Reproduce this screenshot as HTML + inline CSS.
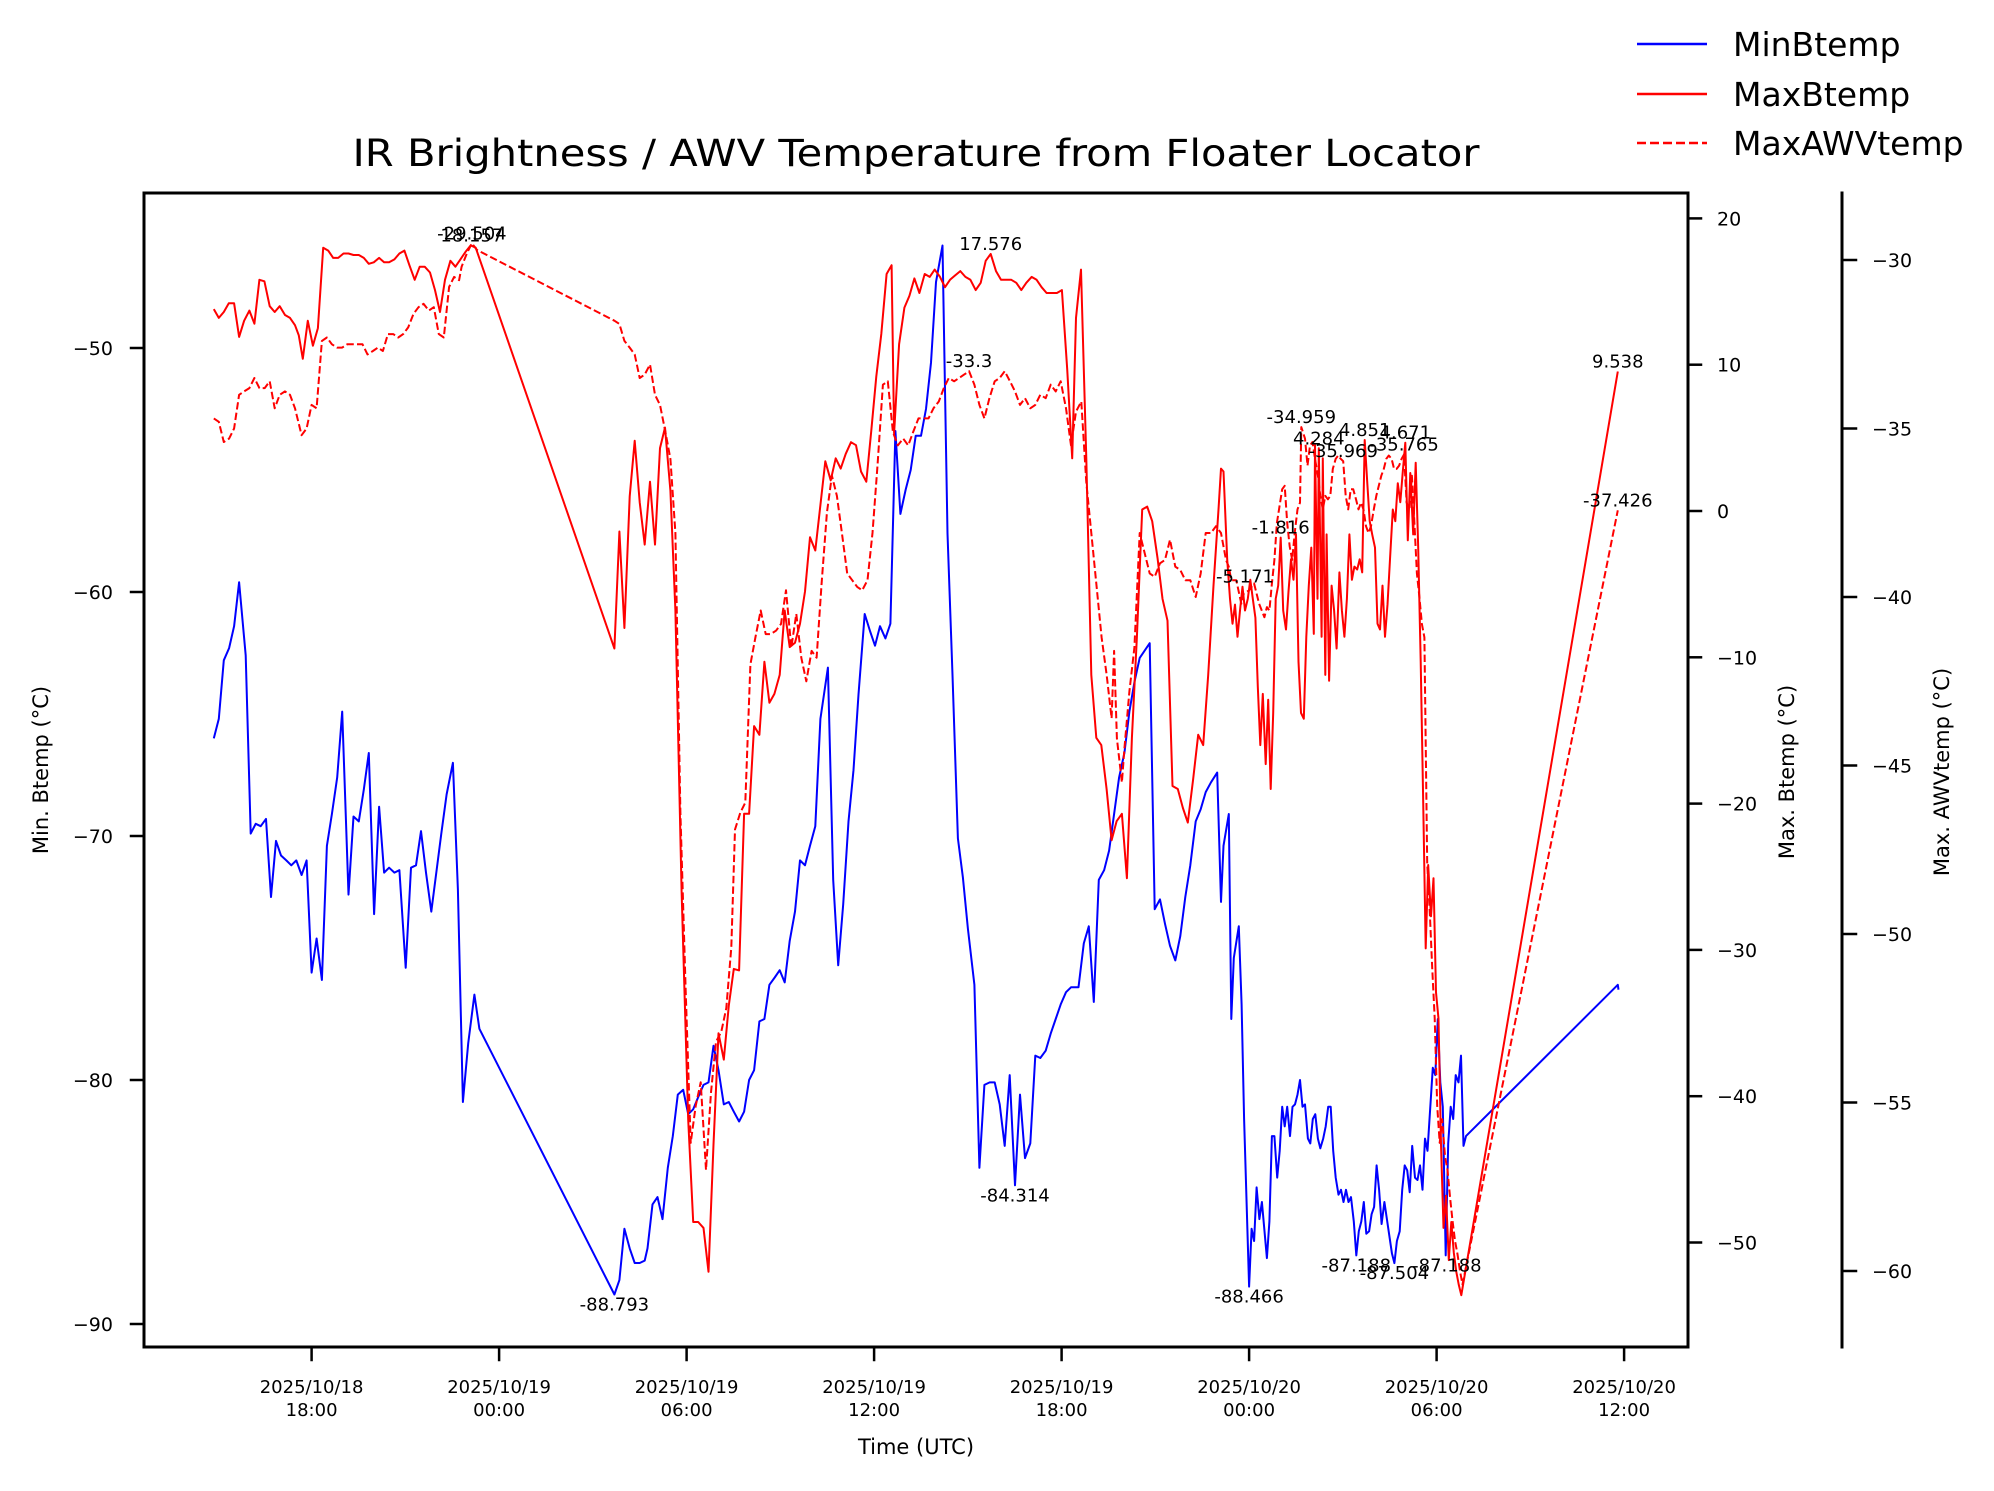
<!DOCTYPE html>
<html><head><meta charset="utf-8">
<style>
html,body{margin:0;padding:0;background:#fff;}
svg{display:block;font-family:"DejaVu Sans","Liberation Sans",sans-serif;}
</style></head>
<body>
<svg id="chart" width="1994" height="1491" viewBox="0 0 1994 1491" xmlns="http://www.w3.org/2000/svg">
<rect x="0" y="0" width="1994" height="1491" fill="#fff"/>
<text x="916" y="166" font-size="37" text-anchor="middle" textLength="1127" lengthAdjust="spacingAndGlyphs">IR Brightness / AWV Temperature from Floater Locator</text>
<g id="plot"></g>
<g id="axes"></g>
<g id="legend">
<line x1="1637" y1="44" x2="1707" y2="44" stroke="#0000ff" stroke-width="2.5"/>
<text x="1733" y="56" font-size="33">MinBtemp</text>
<line x1="1637" y1="94" x2="1707" y2="94" stroke="#ff0000" stroke-width="2.5"/>
<text x="1733" y="106" font-size="33">MaxBtemp</text>
<line x1="1637" y1="143" x2="1707" y2="143" stroke="#ff0000" stroke-width="2.5" stroke-dasharray="9,4"/>
<text x="1733" y="155" font-size="33">MaxAWVtemp</text>
</g>
</svg>
<script>
// ---- data ----
const xTickHours = [18,24,30,36,42,48,54,60];
const xTickDates = ["2025/10/18","2025/10/19","2025/10/19","2025/10/19","2025/10/19","2025/10/20","2025/10/20","2025/10/20"];
const xTickTimes = ["18:00","00:00","06:00","12:00","18:00","00:00","06:00","12:00"];
const minTicks = [-50,-60,-70,-80,-90];
const maxTicks = [20,10,0,-10,-20,-30,-40,-50];
const awvTicks = [-30,-35,-40,-45,-50,-55,-60];

const minTime = [14.87,15.03,15.19,15.36,15.52,15.68,15.89,16.05,16.21,16.37,16.54,16.70,16.86,17.02,17.19,17.35,17.51,17.68,17.84,18.00,18.16,18.33,18.49,18.65,18.82,18.98,19.18,19.34,19.51,19.67,19.83,20.00,20.16,20.32,20.48,20.65,20.81,21.01,21.18,21.34,21.50,21.66,21.83,21.99,22.15,22.32,22.52,22.68,22.84,23.01,23.21,23.37,
27.69,27.85,28.01,28.18,28.34,28.50,28.66,28.75,28.91,29.07,29.23,29.40,29.56,29.72,29.89,30.05,30.21,30.37,30.54,30.70,30.86,31.02,31.19,31.35,31.51,31.68,31.84,32.00,32.16,32.33,32.49,32.65,32.82,32.98,33.14,33.30,33.47,33.63,33.79,33.95,34.12,34.28,34.52,34.69,34.85,35.01,35.18,35.34,35.50,35.70,35.87,36.03,36.19,36.36,36.52,36.68,36.84,37.01,37.17,37.33,37.50,37.66,37.82,37.98,38.19,38.35,38.51,38.68,38.84,39.00,39.21,39.37,39.53,39.70,39.86,40.02,40.18,40.34,40.51,40.67,40.83,41.00,41.16,41.32,41.49,41.65,41.81,41.97,42.14,42.30,42.54,42.71,42.87,43.03,43.19,43.36,43.52,43.68,43.84,44.01,44.17,44.33,44.50,44.66,44.82,44.98,45.15,45.31,45.47,45.64,45.80,45.96,46.12,46.29,46.45,46.61,46.78,46.98,47.10,47.18,47.35,47.43,47.51,47.67,47.76,47.84,48.00,48.08,48.16,48.24,48.33,48.41,48.57,48.65,48.73,48.81,48.90,48.98,49.06,49.14,49.22,49.31,49.39,49.47,49.55,49.63,49.71,49.79,49.88,49.96,50.04,50.12,50.20,50.28,50.37,50.45,50.53,50.61,50.69,50.77,50.86,50.94,51.02,51.10,51.18,51.26,51.35,51.43,51.51,51.59,51.67,51.75,51.84,51.92,52.00,52.08,52.16,52.24,52.33,52.41,52.49,52.57,52.65,52.73,52.82,52.90,52.98,53.06,53.14,53.22,53.31,53.39,53.47,53.55,53.63,53.71,53.80,53.88,53.96,54.04,54.12,54.20,54.29,54.37,54.45,54.53,54.61,54.70,54.78,54.86,54.94,59.80,59.82];
const minValues = [-66.0,-65.2,-62.8,-62.3,-61.4,-59.6,-62.6,-69.9,-69.5,-69.6,-69.3,-72.5,-70.2,-70.8,-71.0,-71.2,-71.0,-71.6,-71.0,-75.6,-74.2,-75.9,-70.4,-69.1,-67.6,-64.9,-72.4,-69.2,-69.4,-68.1,-66.6,-73.2,-68.8,-71.5,-71.3,-71.5,-71.4,-75.4,-71.3,-71.2,-69.8,-71.5,-73.1,-71.5,-69.9,-68.3,-67.0,-72.2,-80.9,-78.5,-76.5,-77.9,
-88.793,-88.2,-86.1,-86.9,-87.5,-87.5,-87.4,-86.9,-85.1,-84.8,-85.7,-83.6,-82.3,-80.6,-80.4,-81.4,-81.2,-80.7,-80.2,-80.1,-78.6,-79.6,-81.0,-80.9,-81.3,-81.7,-81.3,-80.0,-79.6,-77.6,-77.5,-76.1,-75.8,-75.5,-76.0,-74.3,-73.1,-71.0,-71.2,-70.4,-69.6,-65.2,-63.1,-71.8,-75.3,-72.8,-69.4,-67.3,-64.2,-60.9,-61.6,-62.2,-61.4,-61.9,-61.3,-53.4,-56.8,-55.8,-55.0,-53.6,-53.6,-52.5,-50.6,-47.3,-45.8,-57.6,-63.4,-70.1,-71.7,-73.8,-76.1,-83.6,-80.2,-80.1,-80.1,-81.0,-82.7,-79.8,-84.314,-80.6,-83.2,-82.6,-79.0,-79.1,-78.8,-78.1,-77.5,-76.9,-76.4,-76.2,-76.2,-74.4,-73.7,-76.8,-71.8,-71.4,-70.6,-69.1,-67.6,-66.6,-64.9,-63.7,-62.7,-62.4,-62.1,-73.0,-72.6,-73.6,-74.5,-75.1,-74.1,-72.5,-71.2,-69.4,-68.9,-68.2,-67.8,-67.4,-72.7,-70.4,-69.1,-77.5,-75.0,-73.7,-76.9,-81.6,-88.466,-86.1,-86.6,-84.4,-85.7,-85.0,-87.3,-85.8,-82.3,-82.3,-84.0,-82.9,-81.1,-81.9,-81.1,-82.3,-81.1,-81.0,-80.6,-80.0,-81.1,-81.0,-82.4,-82.6,-81.6,-81.4,-82.4,-82.8,-82.4,-81.9,-81.1,-81.1,-82.9,-84.0,-84.7,-84.5,-85.0,-84.5,-85.0,-84.8,-85.8,-87.188,-86.2,-85.8,-85.0,-86.3,-86.2,-85.5,-85.2,-83.5,-84.5,-85.9,-85.0,-85.7,-86.4,-87.1,-87.504,-86.6,-86.2,-84.5,-83.5,-83.7,-84.6,-82.7,-84.0,-84.1,-83.5,-84.5,-82.4,-82.9,-81.1,-79.5,-79.8,-77.5,-80.1,-81.1,-87.188,-82.6,-81.1,-81.6,-79.8,-80.1,-79.0,-82.7,-82.3,-76.1,-76.3];

const maxTime = [14.87,15.03,15.19,15.35,15.52,15.68,15.84,16.01,16.17,16.33,16.49,16.66,16.82,16.98,17.15,17.31,17.47,17.59,17.72,17.88,18.04,18.20,18.37,18.53,18.69,18.85,19.02,19.18,19.34,19.51,19.67,19.83,19.99,20.16,20.32,20.48,20.65,20.81,20.97,21.13,21.30,21.46,21.62,21.79,21.95,22.11,22.27,22.44,22.60,22.76,22.92,23.09,23.25,
27.69,27.85,28.01,28.18,28.34,28.50,28.66,28.83,28.99,29.15,29.31,29.48,29.64,29.84,30.05,30.21,30.37,30.54,30.70,30.86,31.02,31.19,31.35,31.51,31.68,31.84,32.00,32.16,32.33,32.49,32.65,32.81,32.98,33.14,33.30,33.47,33.63,33.79,33.95,34.12,34.28,34.44,34.61,34.77,34.93,35.09,35.26,35.42,35.58,35.75,35.91,36.07,36.23,36.40,36.56,36.64,36.80,36.97,37.13,37.29,37.45,37.62,37.78,37.94,38.11,38.27,38.43,38.59,38.76,38.92,39.08,39.25,39.41,39.57,39.73,39.90,40.06,40.22,40.39,40.55,40.71,40.87,41.04,41.20,41.36,41.52,41.69,41.85,42.01,42.18,42.34,42.46,42.62,42.79,42.95,43.11,43.27,43.44,43.60,43.76,43.93,44.09,44.25,44.41,44.58,44.74,44.90,45.07,45.23,45.39,45.55,45.72,45.88,46.04,46.21,46.37,46.53,46.69,46.86,47.02,47.10,47.18,47.30,47.39,47.47,47.55,47.63,47.71,47.79,47.87,47.96,48.04,48.12,48.20,48.28,48.36,48.44,48.53,48.61,48.69,48.77,48.85,48.93,49.01,49.09,49.18,49.26,49.34,49.42,49.50,49.58,49.66,49.75,49.83,49.91,49.99,50.07,50.11,50.19,50.23,50.32,50.36,50.44,50.48,50.56,50.64,50.72,50.80,50.89,50.97,51.05,51.13,51.21,51.29,51.37,51.46,51.54,51.62,51.70,51.78,51.86,51.94,52.03,52.11,52.19,52.27,52.35,52.43,52.51,52.60,52.68,52.76,52.84,52.92,53.00,53.08,53.16,53.25,53.33,53.41,53.49,53.57,53.65,53.73,53.82,53.90,53.98,54.06,54.14,54.22,54.30,54.39,54.47,54.55,54.63,54.71,54.79,59.80];
const maxValues = [13.8,13.2,13.6,14.2,14.2,11.9,13.0,13.7,12.8,15.8,15.7,14.0,13.6,14.0,13.4,13.2,12.7,12.0,10.4,13.0,11.3,12.5,18.0,17.8,17.3,17.3,17.6,17.6,17.5,17.5,17.3,16.9,17.0,17.3,17.0,17.0,17.2,17.6,17.8,16.8,15.8,16.7,16.7,16.3,15.1,13.6,15.8,17.1,16.7,17.2,17.7,18.157,18.0,
-9.4,-1.4,-8.0,1.0,4.8,0.6,-2.3,2.0,-2.3,4.3,5.7,1.4,-6.8,-26.0,-41.6,-48.6,-48.6,-49.0,-52.0,-43.3,-35.7,-37.5,-33.8,-31.3,-31.4,-20.7,-20.7,-14.7,-15.3,-10.3,-13.1,-12.5,-11.2,-6.8,-9.3,-9.0,-7.7,-5.5,-1.8,-2.7,0.4,3.4,2.1,3.6,2.9,3.9,4.7,4.5,2.7,2.0,5.5,9.2,12.1,16.2,16.8,5.3,11.4,13.9,14.7,15.9,14.9,16.2,16.0,16.5,16.0,15.3,15.8,16.1,16.4,16.0,15.8,15.1,15.6,17.1,17.576,16.4,15.8,15.8,15.8,15.6,15.1,15.6,16.0,15.8,15.3,14.9,14.9,14.9,15.1,9.7,3.6,13.2,16.5,3.6,-11.2,-15.5,-16.0,-19.0,-22.5,-21.2,-20.7,-25.1,-15.5,-8.6,0.1,0.3,-0.7,-3.2,-6.0,-7.5,-18.8,-19.0,-20.3,-21.3,-18.3,-15.3,-16.0,-11.2,-5.1,0.1,2.9,2.7,-3.3,-6.0,-7.7,-6.4,-8.6,-6.8,-5.171,-6.8,-6.0,-4.7,-6.0,-7.3,-12.0,-16.0,-12.5,-17.3,-12.9,-19.0,-13.8,-6.0,-5.1,-1.816,-6.8,-8.1,-5.5,-3.3,-4.7,-1.6,-10.3,-13.8,-14.2,-8.6,-5.1,-2.5,-8.4,4.5,-6.0,4.284,-8.6,3.6,-11.2,-1.6,-11.6,-5.1,-6.8,-9.4,-4.2,-6.8,-8.6,-6.0,-1.6,-4.7,-3.8,-4.0,-3.3,-4.2,4.851,2.0,-0.7,-1.6,-2.5,-7.7,-8.1,-5.1,-8.6,-6.4,-3.3,0.1,-0.7,1.9,0.6,2.7,4.671,-2.0,2.6,-1.6,3.3,-2.5,-10.3,-19.9,-29.9,-24.2,-27.7,-25.1,-32.9,-34.7,-43.3,-49.0,-46.8,-51.2,-48.6,-50.7,-52.0,-52.9,-53.6,9.538];

const awvTime = [14.87,15.03,15.19,15.36,15.52,15.68,15.84,16.01,16.17,16.33,16.50,16.66,16.82,16.98,17.15,17.31,17.47,17.68,17.84,18.00,18.16,18.33,18.49,18.65,18.82,18.98,19.14,19.30,19.47,19.63,19.79,19.96,20.12,20.28,20.44,20.61,20.77,20.93,21.09,21.26,21.42,21.58,21.75,21.91,22.07,22.23,22.40,22.56,22.72,22.80,22.97,23.13,23.29,
27.69,27.85,28.01,28.18,28.34,28.50,28.66,28.83,28.99,29.15,29.32,29.48,29.64,29.80,29.97,30.13,30.29,30.45,30.62,30.78,30.94,31.11,31.27,31.43,31.55,31.72,31.88,32.04,32.20,32.37,32.53,32.69,32.86,33.02,33.18,33.35,33.51,33.67,33.83,34.00,34.16,34.32,34.49,34.65,34.81,34.97,35.14,35.30,35.46,35.62,35.79,35.95,36.11,36.28,36.44,36.60,36.76,36.93,37.09,37.25,37.42,37.58,37.74,37.90,38.07,38.23,38.39,38.56,38.72,38.88,39.04,39.21,39.37,39.53,39.69,39.86,40.02,40.18,40.35,40.51,40.67,40.83,41.00,41.16,41.32,41.49,41.65,41.81,41.97,42.14,42.30,42.46,42.63,42.79,42.95,43.11,43.28,43.44,43.60,43.68,43.77,43.93,44.01,44.17,44.33,44.50,44.66,44.82,44.98,45.15,45.31,45.47,45.64,45.80,45.96,46.12,46.29,46.45,46.61,46.78,46.94,47.10,47.26,47.35,47.43,47.59,47.75,47.83,48.00,48.16,48.32,48.49,48.57,48.65,48.73,48.81,48.89,49.06,49.14,49.22,49.30,49.38,49.46,49.55,49.63,49.67,49.79,49.87,49.95,50.03,50.11,50.20,50.28,50.36,50.44,50.52,50.60,50.68,50.77,50.85,50.93,51.01,51.09,51.17,51.25,51.33,51.42,51.50,51.58,51.66,51.74,51.82,51.90,51.99,52.07,52.15,52.23,52.31,52.39,52.47,52.56,52.64,52.72,52.80,52.88,52.96,53.04,53.13,53.21,53.29,53.37,53.45,53.53,53.61,53.70,53.78,53.86,53.94,54.02,54.10,54.18,54.27,54.35,54.43,54.51,54.59,54.67,54.75,54.83,59.80];
const awvValues = [-34.7,-34.8,-35.4,-35.3,-35.0,-34.0,-33.9,-33.8,-33.5,-33.8,-33.8,-33.6,-34.4,-34.0,-33.9,-34.0,-34.4,-35.2,-35.0,-34.3,-34.4,-32.4,-32.3,-32.5,-32.6,-32.6,-32.5,-32.5,-32.5,-32.5,-32.8,-32.7,-32.6,-32.7,-32.2,-32.2,-32.3,-32.2,-32.0,-31.6,-31.4,-31.3,-31.5,-31.4,-32.2,-32.3,-30.8,-30.5,-30.6,-30.2,-29.8,-29.504,-29.7,
-31.8,-31.9,-32.4,-32.6,-32.8,-33.5,-33.4,-33.1,-34.0,-34.3,-35.1,-35.9,-38.1,-46.4,-51.7,-56.2,-55.1,-54.4,-57.0,-54.7,-53.2,-52.9,-52.2,-50.4,-46.9,-46.4,-46.1,-42.0,-41.2,-40.4,-41.1,-41.1,-41.0,-40.8,-39.8,-41.5,-40.5,-41.8,-42.5,-41.6,-41.8,-39.6,-37.5,-36.4,-37.0,-38.1,-39.3,-39.5,-39.7,-39.8,-39.5,-38.1,-36.1,-33.7,-33.6,-35.1,-35.5,-35.3,-35.5,-35.1,-34.7,-34.7,-34.7,-34.4,-34.2,-33.8,-33.5,-33.6,-33.5,-33.4,-33.3,-33.7,-34.3,-34.7,-34.1,-33.6,-33.5,-33.3,-33.6,-33.9,-34.3,-34.1,-34.4,-34.3,-34.0,-34.1,-33.7,-33.9,-33.6,-34.4,-35.5,-34.5,-34.2,-36.6,-38.1,-39.6,-41.2,-42.3,-43.6,-41.6,-44.2,-45.5,-44.5,-42.8,-41.5,-38.1,-38.7,-39.3,-39.4,-39.0,-38.9,-38.3,-39.1,-39.2,-39.5,-39.5,-40.0,-39.3,-38.1,-38.1,-37.9,-38.1,-38.9,-39.1,-39.5,-39.5,-40.2,-39.9,-39.8,-39.6,-40.2,-40.6,-40.3,-40.4,-39.6,-38.9,-37.8,-36.8,-36.7,-37.8,-38.5,-38.9,-38.1,-37.4,-37.2,-34.959,-35.3,-36.1,-35.5,-35.4,-35.9,-36.4,-37.0,-37.4,-37.0,-37.1,-37.0,-36.2,-35.9,-35.8,-35.9,-35.969,-37.0,-37.4,-36.8,-36.8,-37.1,-37.4,-37.2,-37.4,-37.9,-38.1,-37.9,-37.4,-37.0,-36.7,-36.4,-36.2,-35.9,-35.8,-35.9,-36.2,-36.2,-36.1,-35.9,-35.765,-37.2,-37.4,-36.4,-37.8,-39.3,-40.0,-40.8,-41.2,-47.9,-49.3,-51.0,-52.5,-55.1,-56.2,-55.5,-56.6,-57.0,-57.8,-58.5,-59.1,-59.5,-60.0,-60.4,-37.426];

const annSeries = ["min","min","min","min","min","min","max","awv","max","awv","awv","max","awv","max","awv","max","max","max","awv"];
const annTime = [27.69,40.51,48.00,51.43,52.65,54.33,39.73,39.04,23.13,23.13,49.67,50.23,51.01,51.70,52.96,53.00,49.01,47.87,59.80];
const annValue = [-88.793,-84.314,-88.466,-87.188,-87.504,-87.188,17.576,-33.3,18.157,-29.504,-34.959,4.284,-35.969,4.851,-35.765,4.671,-1.816,-5.171,-37.426];
const annText = ["-88.793","-84.314","-88.466","-87.188","-87.504","-87.188","17.576","-33.3","18.157","-29.504","-34.959","4.284","-35.969","4.851","-35.765","4.671","-1.816","-5.171","-37.426"];
const annBelow = [true,true,true,true,true,true,false,false,false,false,false,false,false,false,false,false,false,false,false];
const annEndMax = ["9.538"];

// ---- geometry ----
const L=144,R=1688,T=193,B=1347;
const X = t => 311.6 + (t-18)*31.25;
const Ymin = v => 348 + (-50 - v)*24.4;
const Ymax = v => 511 - v*14.63;
const Yawv = v => 260 + (-30 - v)*33.7;
const NS="http://www.w3.org/2000/svg";
function mk(tag, parent){const e=document.createElementNS(NS,tag);parent.appendChild(e);return e;}

const svg=document.getElementById('chart');
const plot=document.getElementById('plot');
const axes=document.getElementById('axes');

const defs=mk('defs',svg);
const cp=mk('clipPath',defs); cp.setAttribute('id','clipArea');
const cr=mk('rect',cp); cr.setAttribute('x',L); cr.setAttribute('y',T); cr.setAttribute('width',R-L); cr.setAttribute('height',B-T);
plot.setAttribute('clip-path','url(#clipArea)');

function drawLine(times, vals, yf, color, dash, name){
  const p=mk('path',plot);
  let d='';
  for(let i=0;i<times.length;i++){d+=(i?'L':'M')+X(times[i]).toFixed(1)+','+yf(vals[i]).toFixed(1);}
  p.setAttribute('d',d);
  p.setAttribute('fill','none');
  p.setAttribute('stroke',color);
  p.setAttribute('stroke-width','2');
  p.setAttribute('stroke-linejoin','round');
  if(dash) p.setAttribute('stroke-dasharray',dash);
  
  
}
drawLine(minTime,minValues,Ymin,'#0000ff',null,'minbtemp-line');
drawLine(maxTime,maxValues,Ymax,'#ff0000',null,'maxbtemp-line');
drawLine(awvTime,awvValues,Yawv,'#ff0000','7.4,3.2','maxawvtemp-line');

const annG=mk('g',svg);


const yfFor={min:Ymin,max:Ymax,awv:Yawv};
for(let i=0;i<annText.length;i++){
  const y=yfFor[annSeries[i]](annValue[i]);
  const t=mk('text',annG);
  t.setAttribute('x',X(annTime[i]).toFixed(1));
  t.setAttribute('y',(annBelow[i]?y+16:y-4).toFixed(1));
  t.setAttribute('font-size','18');
  t.setAttribute('text-anchor','middle');
  t.textContent=annText[i];
  
  
}
{
  const y=Ymax(maxValues[maxValues.length-1]);
  const t=mk('text',annG);
  t.setAttribute('x',X(maxTime[maxTime.length-1]).toFixed(1));
  t.setAttribute('y',(y-4).toFixed(1));
  t.setAttribute('font-size','18');
  t.setAttribute('text-anchor','middle');
  t.textContent=annEndMax[0];
  
  
}

function ln(x1,y1,x2,y2,w,name){
  const l=mk('line',axes);
  l.setAttribute('x1',x1);l.setAttribute('y1',y1);l.setAttribute('x2',x2);l.setAttribute('y2',y2);
  l.setAttribute('stroke','#000');l.setAttribute('stroke-width',w);l.setAttribute('stroke-linecap','square');
  
  
  return l;
}
function tx(x,y,s,size,anchor,name){
  const t=mk('text',axes);
  t.setAttribute('x',x);t.setAttribute('y',y);t.setAttribute('font-size',size);t.setAttribute('text-anchor',anchor);
  t.textContent=s;
  
  
  return t;
}
ln(L,T,R,T,3,'top-spine');
ln(L,B,R,B,3,'bottom-spine');
ln(L,T,L,B,3,'left-spine');
ln(R,T,R,B,3,'right-spine-maxbtemp');
ln(1842,T,1842,B,3,'right-spine-maxawvtemp');

for(let i=0;i<xTickHours.length;i++){
  const x=X(xTickHours[i]);
  ln(x,B,x,B+13,2.5,'x-tick');
  tx(x,1393,xTickDates[i],18,'middle','x-tick-label-date');
  tx(x,1416,xTickTimes[i],18,'middle','x-tick-label-time');
}
tx(916,1454,'Time (UTC)',21,'middle','x-axis-title');

for(const v of minTicks){
  const y=Ymin(v);
  ln(L-13,y,L,y,2.5,'y-left-tick');
  tx(113,y+7,'\u2212'+Math.abs(v),19,'end','y-left-tick-label');
}
for(const v of maxTicks){
  const y=Ymax(v);
  ln(R,y,R+13,y,2.5,'y-maxbtemp-tick');
  tx(1717,y+7,(v<0?'\u2212':'')+Math.abs(v),19,'start','y-maxbtemp-tick-label');
}
for(const v of awvTicks){
  const y=Yawv(v);
  ln(1842,y,1856,y,2.5,'y-maxawvtemp-tick');
  tx(1872,y+7,'\u2212'+Math.abs(v),19,'start','y-maxawvtemp-tick-label');
}
function vt(x,y,s,name){
  const t=tx(x,y,s,21,'middle',name);
  t.setAttribute('transform','rotate(-90 '+x+' '+y+')');
}
vt(48,770,'Min. Btemp (\u00B0C)','y-left-axis-title');
vt(1794,772,'Max. Btemp (\u00B0C)','y-maxbtemp-axis-title');
vt(1949,772,'Max. AWVtemp (\u00B0C)','y-maxawvtemp-axis-title');
</script>
</body></html>
